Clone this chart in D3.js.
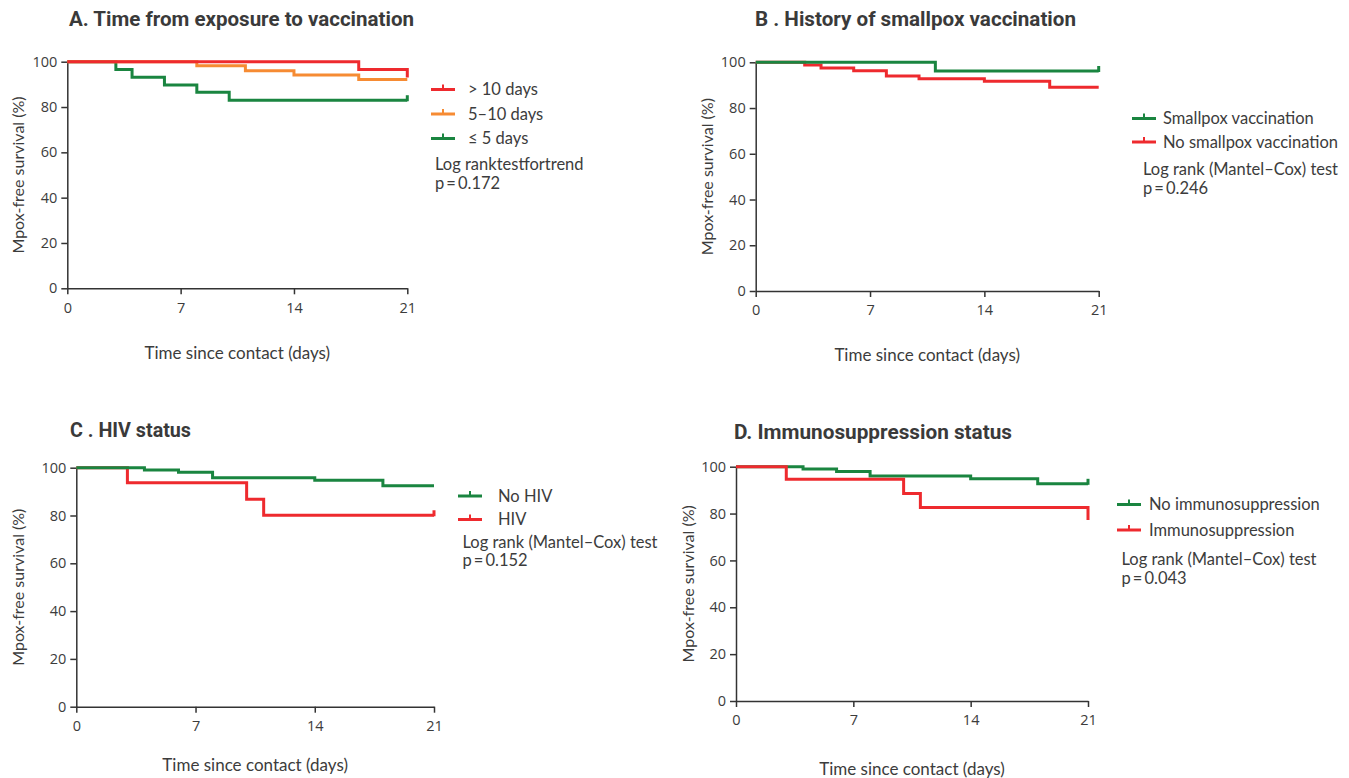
<!DOCTYPE html>
<html>
<head>
<meta charset="utf-8">
<script src="https://cdn.jsdelivr.net/npm/d3@7"></script>
<style>
  body { margin: 0; background: #fff; }
  svg text { font-family: Lato, "Open Sans", sans-serif; fill: #3c3c3c; }
</style>
</head>
<body>
<div id="chart"></div>
<script>
// data (days since contact, % Mpox-free)
const yTicks = [0, 20, 40, 60, 80, 100];
const xTicks = [0, 7, 14, 21];

// A. time from exposure to vaccination
const aGt10Days = [0, 18, 21];
const aGt10Surv = [100, 96.6, 93.0];
const a5to10Days = [0, 8, 11, 14, 18, 21];
const a5to10Surv = [100, 98.2, 96.0, 94.1, 92.2, 92.2];
const aLe5Days = [0, 3, 4, 6, 8, 10, 21];
const aLe5Surv = [100, 96.6, 93.1, 89.7, 86.5, 83.0, 83.0];

// B. smallpox vaccination history
const bVaccDays = [0, 11, 21];
const bVaccSurv = [100, 96.2, 96.2];
const bNoVaccDays = [0, 3, 4, 6, 8, 10, 14, 18, 21];
const bNoVaccSurv = [100, 98.8, 97.5, 96.3, 94.0, 92.8, 91.7, 89.1, 89.1];

// C. HIV status
const cNoHivDays = [0, 4, 6, 8, 14, 18, 21];
const cNoHivSurv = [100, 99.0, 98.1, 95.8, 94.7, 92.5, 92.5];
const cHivDays = [0, 3, 10, 11, 21];
const cHivSurv = [100, 93.7, 86.8, 80.1, 80.1];

// D. immunosuppression
const dNoImmDays = [0, 4, 6, 8, 14, 18, 21];
const dNoImmSurv = [100, 99.0, 98.0, 96.0, 94.9, 92.7, 92.7];
const dImmDays = [0, 3, 10, 11, 21];
const dImmSurv = [100, 94.6, 88.6, 82.6, 77.2];

const RED = "#ee2a2e", ORANGE = "#f68b33", GREEN = "#1a8540";

function zipSeries(days, surv) {
    return days.map((d, i) => ({day: d, surv: surv[i]}));
}

// z: drawing order of the curves (higher is on top)
const panels = [
    {
        title: "A. Time from exposure to vaccination", titleX: 69, titleY: 26, titleW: 345,
        x0: 67.3, x1: 407.3, y0: 61.7, y1: 288.3, yLabelX: 24, xLabelY: 359,
        series: [
            {name: "> 10 days", color: RED, data: zipSeries(aGt10Days, aGt10Surv), tick: false, z: 3},
            {name: "5\u201310 days", color: ORANGE, data: zipSeries(a5to10Days, a5to10Surv), tick: false, z: 2},
            {name: "\u2264 5 days", color: GREEN, data: zipSeries(aLe5Days, aLe5Surv), tick: true, z: 1}
        ],
        legend: {lx: 431, textX: 468, ys: [89.5, 114, 138.5]},
        stats: {x: 435, y: 170, lines: ["Log ranktestfortrend", "p\u2009=\u20090.172"]}
    },
    {
        title: "B . History of smallpox vaccination", titleX: 755, titleY: 26, titleW: 321,
        x0: 755.7, x1: 1098.7, y0: 62.3, y1: 291, yLabelX: 713, xLabelY: 361,
        series: [
            {name: "Smallpox vaccination", color: GREEN, data: zipSeries(bVaccDays, bVaccSurv), tick: true, z: 2},
            {name: "No smallpox vaccination", color: RED, data: zipSeries(bNoVaccDays, bNoVaccSurv), tick: false, z: 1}
        ],
        legend: {lx: 1132, textX: 1163, ys: [118.5, 142]},
        stats: {x: 1143, y: 175, lines: ["Log rank (Mantel\u2013Cox) test", "p\u2009=\u20090.246"]}
    },
    {
        title: "C . HIV status", titleX: 70, titleY: 437, titleW: 121,
        x0: 76.3, x1: 434, y0: 467.7, y1: 706.7, yLabelX: 24, xLabelY: 771,
        series: [
            {name: "No HIV", color: GREEN, data: zipSeries(cNoHivDays, cNoHivSurv), tick: false, z: 2},
            {name: "HIV", color: RED, data: zipSeries(cHivDays, cHivSurv), tick: true, z: 1}
        ],
        legend: {lx: 458, textX: 498, ys: [496, 519.5]},
        stats: {x: 462.5, y: 547.5, lines: ["Log rank (Mantel\u2013Cox) test", "p\u2009=\u20090.152"]}
    },
    {
        title: "D. Immunosuppression status", titleX: 734, titleY: 439, titleW: 278,
        x0: 736, x1: 1088, y0: 466.7, y1: 701, yLabelX: 694, xLabelY: 775,
        series: [
            {name: "No immunosuppression", color: GREEN, data: zipSeries(dNoImmDays, dNoImmSurv), tick: true, z: 1},
            {name: "Immunosuppression", color: RED, data: zipSeries(dImmDays, dImmSurv), tick: false, z: 2}
        ],
        legend: {lx: 1117, textX: 1149, ys: [504.5, 530]},
        stats: {x: 1121.5, y: 565, lines: ["Log rank (Mantel\u2013Cox) test", "p\u2009=\u20090.043"]}
    }
];

const svg = d3.select("#chart").append("svg")
    .attr("width", 1349)
    .attr("height", 778);

panels.forEach(function (p) {
    const g = svg.append("g");

    const x = d3.scaleLinear().domain([0, 21]).range([p.x0, p.x1]);
    const y = d3.scaleLinear().domain([0, 100]).range([p.y1, p.y0]);

    // title
    g.append("text")
        .attr("x", p.titleX)
        .attr("y", p.titleY)
        .attr("textLength", p.titleW)
        .attr("lengthAdjust", "spacingAndGlyphs")
        .style("font-family", "Roboto, sans-serif")
        .style("font-weight", "bold")
        .style("font-size", "20px")
        .style("fill", "#3a3a3a")
        .text(p.title);

    // axes
    const xAxis = g.append("g")
        .attr("transform", "translate(0," + p.y1 + ")")
        .call(d3.axisBottom(x).tickValues(xTicks).tickSize(6).tickPadding(8).tickSizeOuter(0));
    const yAxis = g.append("g")
        .attr("transform", "translate(" + p.x0 + ",0)")
        .call(d3.axisLeft(y).tickValues(yTicks).tickSize(6).tickPadding(4).tickSizeOuter(0));
    [xAxis, yAxis].forEach(function (ax) {
        ax.select(".domain").attr("stroke", "#333").attr("stroke-width", 1.5);
        ax.selectAll(".tick line").attr("stroke", "#333").attr("stroke-width", 1.5);
        ax.selectAll(".tick text")
            .style("font-family", "\"Open Sans\", sans-serif")
            .style("font-size", "14.5px")
            .style("fill", "#3c3c3c");
    });

    // axis titles
    g.append("text")
        .attr("transform", "translate(" + p.yLabelX + "," + ((p.y0 + p.y1) / 2) + ") rotate(-90)")
        .attr("text-anchor", "middle")
        .style("font-size", "16px")
        .text("Mpox-free survival (%)");
    g.append("text")
        .attr("x", (p.x0 + p.x1) / 2)
        .attr("y", p.xLabelY)
        .attr("text-anchor", "middle")
        .style("font-size", "17px")
        .text("Time since contact (days)");

    // survival curves
    const line = d3.line()
        .x(d => x(d.day))
        .y(d => y(d.surv))
        .curve(d3.curveStepAfter);

    p.series.slice().sort((a, b) => a.z - b.z).forEach(function (s) {
        g.append("path")
            .datum(s.data)
            .attr("fill", "none")
            .attr("stroke", s.color)
            .attr("stroke-width", 3)
            .attr("d", line);
        if (s.tick) {
            const last = s.data[s.data.length - 1];
            g.append("line")
                .attr("x1", x(last.day)).attr("x2", x(last.day))
                .attr("y1", y(last.surv) + 1).attr("y2", y(last.surv) - 5)
                .attr("stroke", s.color)
                .attr("stroke-width", 3);
        }
    });

    // legend
    p.series.forEach(function (s, i) {
        const ly = p.legend.ys[i];
        g.append("line")
            .attr("x1", p.legend.lx).attr("x2", p.legend.lx + 24)
            .attr("y1", ly).attr("y2", ly)
            .attr("stroke", s.color).attr("stroke-width", 3);
        g.append("line")
            .attr("x1", p.legend.lx + 12).attr("x2", p.legend.lx + 12)
            .attr("y1", ly).attr("y2", ly - 5)
            .attr("stroke", s.color).attr("stroke-width", 2);
        g.append("text")
            .attr("x", p.legend.textX)
            .attr("y", ly + 5.5)
            .style("font-size", "16.5px")
            .text(s.name);
    });

    // test statistics
    p.stats.lines.forEach(function (t, i) {
        g.append("text")
            .attr("x", p.stats.x)
            .attr("y", p.stats.y + i * 18.5)
            .style("font-size", "16.5px")
            .text(t);
    });
});
</script>
</body>
</html>
